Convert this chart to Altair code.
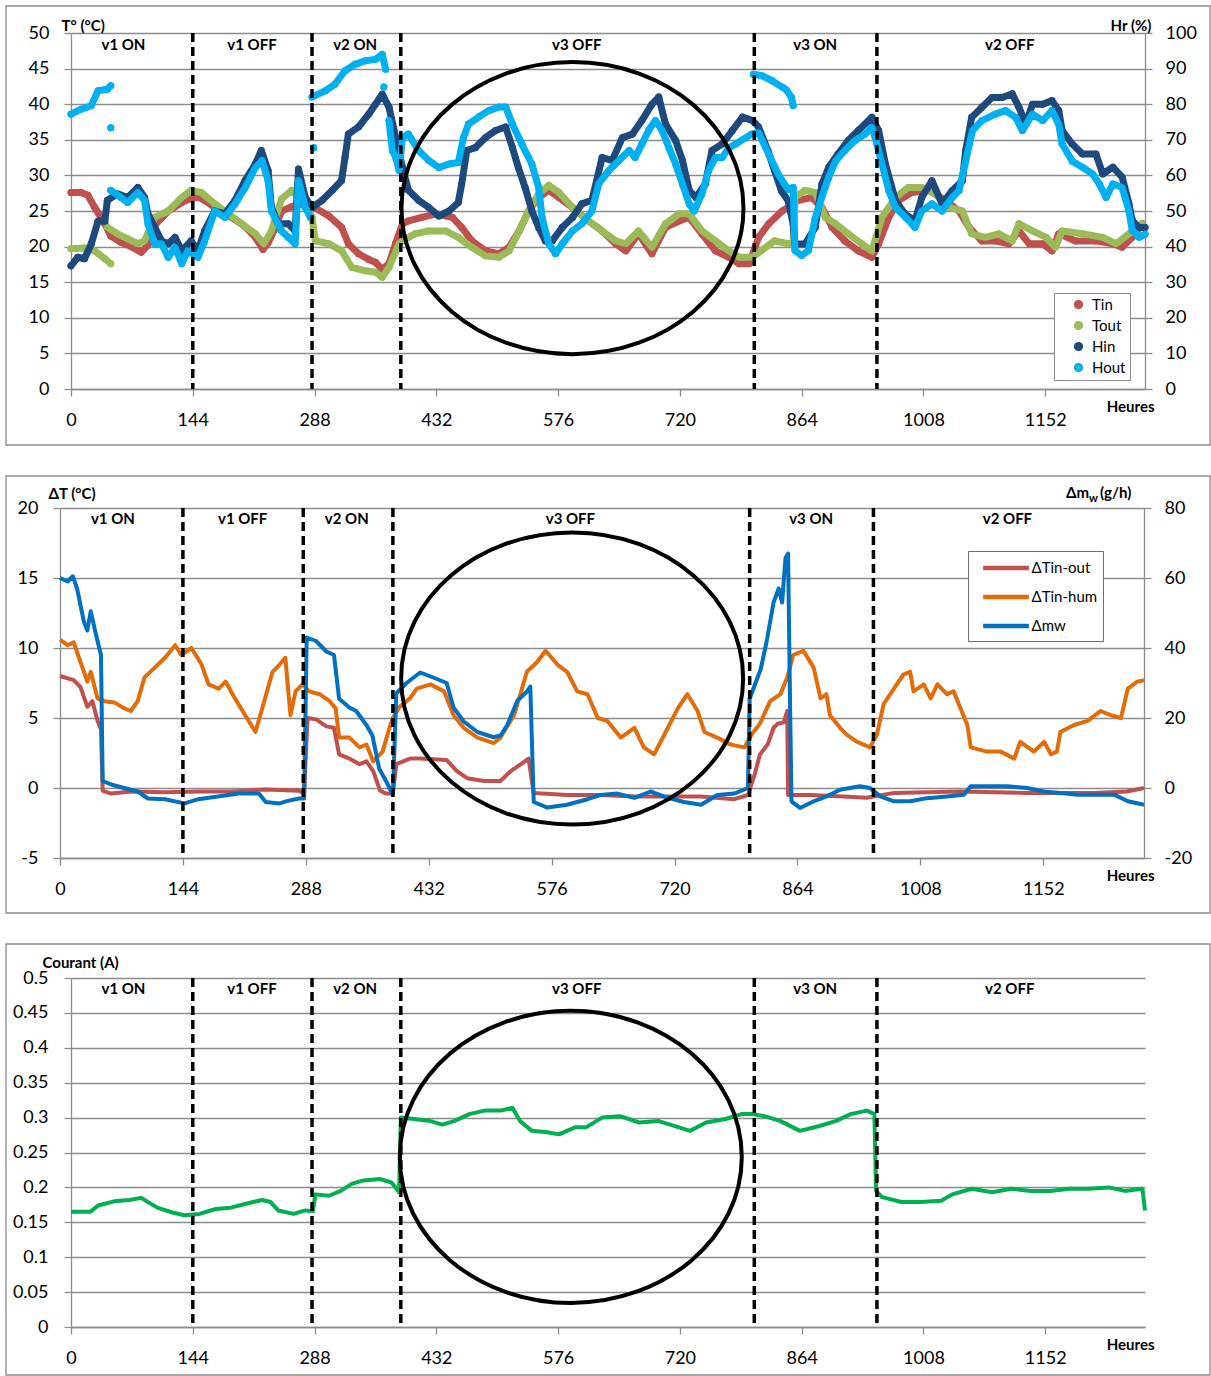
import altair as alt
import pandas as pd

FONT = "Lato"
GRID = "#8c8c8c"
BORDER = "#8c8c8c"

# ---------------- shared annotation data ----------------
HOUR_TICKS = [0, 144, 288, 432, 576, 720, 864, 1008, 1152]
X_MAX = 1270
SWITCH_H = [144, 285, 390, 808, 953]
ZONE_NAMES = ["v1 ON", "v1 OFF", "v2 ON", "v3 OFF", "v3 ON", "v2 OFF"]
ZONE_H = [62, 214, 336, 598, 880, 1110]
ELLIPSE_H = [593, 600, 591]
ELLIPSE_Y = [25.4, 7.82, 0.2437]

# ---------------- panel 1 : temperatures (left) & humidity (right) ----------------
P1_SERIES = ["Tin", "Tout", "Hin", "Hout"]
P1_COLORS = ["#C0504D", "#9BBB59", "#1F497D", "#00B0F0"]

TIN = [(0, 27.6), (12, 27.6), (20, 27.2), (28, 25.5), (40, 23.2), (47, 21.5), (59, 20.6), (71, 20.0),
       (83, 19.2), (91, 20.2), (99, 23.0), (107, 24.0), (115, 25.0), (123, 25.6), (131, 26.2), (138, 26.6),
       (150, 27.0), (158, 26.5), (170, 25.5), (182, 24.6), (194, 23.8), (206, 22.8), (218, 21.3), (227, 19.6),
       (233, 20.5), (241, 22.5), (249, 25.0), (261, 25.6), (269, 26.0), (277, 25.8), (289, 25.4), (305, 24.3),
       (320, 22.7), (328, 20.4), (340, 19.0), (352, 18.2), (360, 17.8), (368, 16.8), (376, 17.6), (384, 20.5),
       (392, 23.2), (399, 23.6), (415, 24.1), (431, 24.6), (451, 24.1), (462, 22.7), (474, 20.8), (490, 19.4),
       (506, 19.0), (518, 19.9), (530, 22.2), (541, 25.0), (553, 26.9), (565, 27.9), (577, 26.9), (593, 25.5),
       (612, 23.6), (628, 22.2), (644, 20.4), (656, 19.4), (671, 21.8), (687, 19.0), (703, 22.7), (719, 23.6),
       (731, 24.1), (746, 21.8), (762, 19.4), (778, 18.5), (790, 17.6), (802, 17.6), (813, 21.3), (825, 23.2),
       (841, 25.0), (848, 25.5), (860, 26.5), (876, 26.9), (888, 25.5), (900, 22.7), (915, 20.8), (931, 19.4),
       (947, 18.5), (955, 20.4), (967, 24.1), (979, 26.5), (994, 27.6), (1014, 27.9), (1034, 26.5), (1050, 25.0),
       (1062, 22.7), (1077, 20.8), (1093, 20.8), (1109, 20.4), (1121, 22.2), (1133, 20.4), (1149, 20.4),
       (1160, 19.4), (1168, 21.8), (1188, 20.8), (1212, 20.8), (1232, 20.4), (1243, 19.9), (1255, 21.3),
       (1267, 23.2)]

TOUT_1 = [(0, 19.7), (16, 19.8), (28, 19.4), (40, 18.3), (47, 17.6)]
TOUT_2 = [(43, 22.7), (55, 21.8), (67, 21.1), (79, 20.4), (87, 20.8), (99, 24.1), (115, 25.0), (131, 26.9),
          (142, 27.9), (154, 27.6), (170, 26.0), (186, 24.6), (202, 23.2), (218, 21.8), (228, 20.4), (237, 22.2),
          (249, 26.7), (261, 27.9), (277, 26.0), (285, 24.1), (289, 20.8), (305, 20.4), (320, 19.4), (332, 17.1),
          (348, 16.6), (360, 16.4), (368, 15.7), (376, 17.1), (388, 20.4), (399, 21.3), (407, 21.8), (423, 22.2),
          (443, 22.2), (458, 21.3), (474, 19.9), (490, 18.7), (506, 18.5), (518, 19.4), (530, 22.2), (541, 25.0),
          (553, 27.4), (565, 28.6), (577, 27.6), (593, 25.5), (612, 23.6), (628, 22.2), (644, 20.8), (656, 20.4),
          (671, 22.2), (687, 19.9), (703, 23.2), (719, 24.6), (731, 24.6), (746, 22.2), (762, 20.8), (778, 19.4),
          (790, 18.5), (806, 18.5), (817, 19.5), (832, 20.8), (848, 20.4), (854, 20.6), (856, 26.9), (868, 27.9),
          (880, 27.6), (892, 24.1), (904, 23.2), (919, 21.8), (935, 20.4), (947, 19.4), (959, 24.1), (975, 26.9),
          (990, 28.3), (1006, 28.3), (1022, 27.4), (1038, 25.5), (1054, 25.0), (1065, 21.8), (1081, 21.3),
          (1097, 21.8), (1113, 20.8), (1121, 23.2), (1137, 22.2), (1153, 21.3), (1164, 19.9), (1172, 22.2),
          (1196, 21.8), (1220, 21.3), (1236, 20.4), (1251, 21.8), (1267, 23.2)]

HIN = [(0, 34.6), (8, 37.0), (16, 36.6), (24, 40.8), (32, 47.2), (40, 47.2), (43, 53.0), (55, 54.8), (67, 53.8),
       (79, 56.6), (87, 53.8), (91, 49.2), (99, 45.4), (107, 41.6), (115, 40.8), (123, 42.6), (131, 38.8),
       (142, 41.6), (150, 38.8), (158, 44.4), (170, 50.0), (182, 49.2), (194, 53.0), (206, 58.6), (218, 63.2),
       (225, 67.0), (233, 61.4), (237, 51.0), (245, 46.4), (257, 46.4), (265, 44.4), (269, 61.8), (277, 53.8),
       (285, 51.0), (297, 53.0), (309, 55.8), (320, 58.6), (324, 65.0), (328, 71.6), (340, 73.6), (352, 77.2),
       (360, 80.0), (368, 82.8), (376, 79.2), (384, 70.6), (392, 62.2), (399, 55.8), (411, 53.0), (423, 51.0),
       (435, 48.6), (447, 50.0), (458, 52.4), (462, 57.6), (468, 67.0), (478, 67.8), (490, 70.6), (502, 72.6),
       (514, 73.6), (522, 67.8), (529, 62.2), (537, 56.6), (545, 50.0), (553, 45.4), (561, 41.6), (569, 41.6),
       (581, 45.4), (593, 48.2), (604, 52.0), (616, 53.0), (628, 65.0), (640, 64.2), (652, 70.6), (664, 71.6),
       (675, 75.4), (687, 80.0), (695, 82.0), (703, 74.4), (715, 69.8), (723, 64.2), (731, 55.8), (739, 53.8),
       (750, 57.6), (758, 67.0), (770, 68.8), (782, 72.6), (794, 76.4), (806, 75.4), (813, 73.6), (824, 67.0),
       (832, 61.3), (840, 55.7), (848, 52.9), (854, 46.3), (856, 40.7), (868, 40.7), (880, 45.4), (888, 57.6),
       (896, 62.3), (907, 66.0), (919, 69.8), (931, 72.6), (947, 76.3), (955, 72.6), (963, 63.2), (975, 52.9),
       (986, 49.2), (998, 47.3), (1006, 53.8), (1018, 58.5), (1030, 52.0), (1042, 55.7), (1054, 58.5),
       (1058, 67.0), (1065, 76.3), (1077, 79.1), (1089, 81.9), (1101, 81.9), (1113, 82.9), (1121, 79.1),
       (1129, 74.4), (1137, 80.0), (1149, 80.0), (1160, 81.0), (1168, 78.2), (1172, 72.6), (1184, 68.8),
       (1196, 66.0), (1212, 66.0), (1220, 60.4), (1232, 62.3), (1243, 59.5), (1251, 52.0), (1255, 47.3),
       (1263, 45.4), (1270, 45.4)]

HOUT_A = [(0, 77.2), (12, 78.6), (24, 79.6), (32, 83.8), (43, 84.2), (47, 85.2)]
HOUT_B = [(47, 55.8), (59, 53.8), (67, 52.4), (79, 55.2), (87, 53.0), (91, 46.4), (99, 40.8), (107, 40.8),
          (115, 37.0), (123, 39.8), (131, 35.2), (138, 38.8), (150, 37.0), (158, 41.6), (170, 50.0), (182, 48.2),
          (194, 52.0), (206, 56.6), (218, 62.2), (226, 64.2), (233, 58.6), (237, 50.0), (249, 44.4), (257, 42.6),
          (265, 40.8), (269, 58.6), (277, 51.0), (283, 48.2)]
HOUT_C = [(285, 82.0), (301, 83.8), (312, 85.6), (324, 89.4), (336, 91.2), (348, 92.2), (360, 92.6),
          (368, 94.0), (372, 89.8)]
HOUT_D = [(376, 75.4), (380, 67.0), (384, 65.0), (388, 61.4), (392, 70.6), (399, 71.6), (411, 67.0),
          (423, 64.2), (435, 62.2), (447, 63.2), (458, 63.6), (464, 70.6), (470, 74.4), (482, 76.4), (494, 78.2),
          (506, 79.2), (514, 79.2), (522, 74.4), (533, 68.8), (545, 63.2), (553, 56.6), (557, 48.2), (565, 40.8),
          (573, 38.0), (581, 40.8), (593, 44.4), (604, 46.4), (616, 50.0), (624, 57.6), (636, 61.4), (648, 64.2),
          (660, 67.0), (667, 65.0), (675, 68.8), (683, 72.6), (691, 75.4), (699, 72.6), (707, 67.8), (715, 63.2),
          (723, 57.6), (731, 52.0), (737, 50.0), (746, 54.8), (754, 61.4), (762, 65.0), (770, 65.0), (778, 67.8),
          (786, 68.8), (798, 70.6), (805, 71.6), (813, 72.0), (825, 66.0), (837, 60.0), (848, 56.0), (854, 56.6),
          (856, 38.9), (864, 37.5), (872, 38.9), (880, 48.0), (888, 54.0), (896, 59.5), (904, 64.0), (915, 67.0),
          (927, 69.8), (939, 71.6), (947, 73.5), (953, 68.8), (959, 63.2), (967, 55.7), (975, 51.0), (987, 48.2),
          (998, 45.4), (1006, 50.0), (1018, 52.0), (1030, 50.0), (1042, 53.8), (1050, 55.7), (1058, 64.0),
          (1066, 72.6), (1077, 75.4), (1093, 77.2), (1105, 78.2), (1117, 76.3), (1125, 72.6), (1137, 77.2),
          (1149, 75.4), (1160, 78.2), (1168, 74.4), (1172, 68.8), (1184, 64.0), (1196, 62.3), (1208, 60.4),
          (1216, 57.6), (1224, 53.8), (1232, 57.6), (1243, 56.6), (1251, 50.0), (1255, 44.5), (1263, 42.6),
          (1270, 43.5)]
HOUT_E = [(807, 88.4), (817, 88.0), (829, 86.6), (841, 84.8), (846, 84.0), (852, 81.9), (854, 79.6)]
HOUT_DOTS = [(47, 73.4), (287, 67.8), (370, 84.8)]

# ---------------- panel 2 : delta T (left) & water mass (right) ----------------
P2_SERIES = ["ΔTin-out", "ΔTin-hum", "Δmw"]
P2_COLORS = ["#C0504D", "#E36C09", "#0070C0"]

DT_OUT = [(0, 8.0), (16, 7.7), (24, 7.2), (32, 5.8), (38, 6.2), (44, 4.8), (48, 4.2), (50, -0.2), (60, -0.4),
          (83, -0.25), (123, -0.3), (162, -0.25), (201, -0.25), (241, -0.1), (280, -0.2), (286, -0.4), (290, 5.0),
          (300, 4.9), (312, 4.4), (321, 4.3), (327, 2.4), (339, 2.1), (351, 1.7), (359, 1.9), (367, 1.2),
          (375, -0.2), (382, -0.4), (390, -0.4), (394, 1.7), (410, 2.1), (422, 2.1), (453, 2.0), (465, 1.2),
          (477, 0.7), (497, 0.5), (516, 0.5), (528, 1.2), (540, 1.7), (549, 2.1), (555, -0.35), (594, -0.5),
          (633, -0.5), (673, -0.6), (712, -0.6), (751, -0.6), (790, -0.8), (806, -0.5), (814, 1.0), (820, 2.4),
          (829, 3.1), (836, 4.3), (841, 4.6), (848, 4.7), (852, 5.5), (853, -0.5), (879, -0.5), (918, -0.6),
          (945, -0.7), (977, -0.35), (1055, -0.25), (1133, -0.35), (1211, -0.35), (1250, -0.25), (1270, 0.0)]

DT_HUM = [(0, 10.6), (9, 10.2), (16, 10.4), (24, 9.0), (32, 7.6), (36, 8.3), (44, 6.4), (52, 6.2), (64, 6.1),
          (75, 5.7), (83, 5.5), (91, 6.2), (99, 7.9), (111, 8.6), (123, 9.3), (135, 10.2), (142, 9.5), (154, 10.0),
          (166, 8.8), (174, 7.4), (186, 7.1), (194, 7.6), (205, 6.4), (217, 5.2), (229, 4.0), (237, 5.7),
          (249, 8.3), (257, 8.8), (264, 9.3), (270, 5.2), (276, 6.9), (284, 7.4), (292, 6.9), (304, 6.7),
          (316, 6.2), (323, 5.7), (327, 3.6), (339, 3.6), (351, 2.9), (359, 3.1), (367, 1.9), (378, 2.6),
          (386, 4.3), (390, 5.0), (398, 5.8), (410, 6.4), (418, 7.1), (434, 7.4), (450, 6.9), (461, 5.2),
          (473, 4.3), (489, 3.6), (508, 3.2), (516, 3.6), (532, 5.2), (547, 8.3), (559, 9.0), (569, 9.8),
          (583, 8.8), (594, 8.3), (606, 6.9), (618, 6.7), (630, 5.0), (641, 4.8), (657, 3.6), (673, 4.3),
          (684, 2.9), (696, 2.4), (708, 3.8), (724, 5.7), (735, 6.7), (747, 5.5), (755, 4.0), (770, 3.6),
          (786, 3.1), (802, 2.9), (810, 3.8), (820, 4.6), (832, 6.2), (844, 6.7), (852, 7.9), (859, 9.5),
          (871, 9.8), (883, 8.6), (891, 6.4), (898, 6.7), (902, 5.2), (914, 4.3), (922, 3.8), (934, 3.3),
          (949, 2.9), (957, 3.8), (965, 6.0), (977, 7.1), (988, 8.1), (996, 8.3), (1000, 6.9), (1012, 7.4),
          (1020, 6.4), (1028, 7.4), (1039, 6.7), (1047, 6.9), (1055, 5.7), (1063, 4.5), (1067, 2.9), (1086, 2.6),
          (1102, 2.6), (1118, 2.1), (1125, 3.3), (1141, 2.6), (1153, 3.3), (1161, 2.4), (1168, 2.6), (1172, 4.0),
          (1188, 4.5), (1204, 4.8), (1219, 5.5), (1231, 5.2), (1243, 5.0), (1251, 7.1), (1262, 7.6), (1270, 7.7)]

DMW = [(0, 60), (9, 59), (15, 60.5), (20, 57), (28, 47.5), (32, 45), (36, 50.5), (42, 44), (48, 38), (50, 2),
       (60, 1), (75, 0), (91, -1), (103, -3), (123, -3.2), (146, -4.4), (162, -3.2), (185, -2.4), (209, -1.6),
       (233, -1.6), (241, -4), (257, -4.4), (268, -3.6), (280, -3), (286, -3), (289, 43), (300, 42), (312, 39),
       (321, 38), (327, 25.5), (339, 23), (347, 22), (359, 18), (366, 15), (374, 5.5), (382, 2), (390, -2),
       (394, 27), (406, 30), (422, 33), (438, 31.5), (453, 30), (461, 23), (473, 19), (489, 16), (508, 14.5),
       (516, 15), (524, 18), (536, 25), (547, 27.5), (551, 29), (555, -4), (571, -5.6), (594, -4.8),
       (618, -3.2), (633, -2), (653, -1.6), (673, -2.8), (692, -1), (712, -2.8), (731, -4), (751, -4.8),
       (770, -2), (790, -1.6), (806, 0), (808, 25.5), (821, 34), (828, 42), (836, 53), (842, 57), (846, 53),
       (850, 65.7), (853, 67), (855, 30), (857, -3.8), (867, -5.7), (883, -3.8), (898, -2.4), (914, -0.5),
       (937, 0.5), (949, 0), (961, -2.4), (977, -3.8), (996, -3.8), (1016, -2.9), (1039, -2.4), (1059, -1.9),
       (1067, 0.5), (1086, 0.5), (1110, 0.5), (1133, 0), (1153, -1), (1172, -1.4), (1192, -1.9), (1211, -1.9),
       (1235, -1.9), (1251, -3.8), (1270, -4.8)]

# ---------------- panel 3 : current ----------------
COURANT = [(0, 0.165), (23, 0.165), (32, 0.174), (51, 0.18), (69, 0.182), (83, 0.185), (102, 0.171),
           (120, 0.164), (134, 0.16), (152, 0.162), (171, 0.169), (189, 0.171), (208, 0.177), (226, 0.182),
           (236, 0.179), (245, 0.167), (263, 0.162), (277, 0.167), (286, 0.166), (289, 0.19), (305, 0.188),
           (319, 0.195), (332, 0.205), (346, 0.21), (365, 0.212), (379, 0.207), (388, 0.193), (390, 0.3),
           (406, 0.298), (425, 0.295), (439, 0.29), (453, 0.295), (471, 0.305), (489, 0.31), (508, 0.31),
           (522, 0.314), (531, 0.295), (545, 0.281), (563, 0.279), (577, 0.276), (596, 0.286), (609, 0.286),
           (628, 0.3), (649, 0.302), (672, 0.293), (695, 0.295), (719, 0.286), (732, 0.281), (751, 0.293),
           (774, 0.298), (793, 0.305), (806, 0.305), (820, 0.302), (839, 0.295), (862, 0.281), (885, 0.288),
           (904, 0.295), (922, 0.305), (941, 0.31), (950, 0.305), (952, 0.195), (959, 0.186), (982, 0.179),
           (1005, 0.179), (1029, 0.181), (1042, 0.19), (1065, 0.198), (1089, 0.193), (1112, 0.198),
           (1135, 0.195), (1158, 0.195), (1181, 0.198), (1204, 0.198), (1227, 0.2), (1246, 0.195),
           (1267, 0.198), (1270, 0.167)]

Y1_VALUES = [0, 5, 10, 15, 20, 25, 30, 35, 40, 45, 50]
Y1R_VALUES = [0, 10, 20, 30, 40, 50, 60, 70, 80, 90, 100]
Y2_VALUES = [-5, 0, 5, 10, 15, 20]
Y2R_VALUES = [-20, 0, 20, 40, 60, 80]
Y3_VALUES = [0, 0.05, 0.1, 0.15, 0.2, 0.25, 0.3, 0.35, 0.4, 0.45, 0.5]

ELLIPSE_PATH = "M -1 0 A 1 0.854 0 1 1 1 0 A 1 0.854 0 1 1 -1 0 Z"
ELLIPSE_SIZE = 342 * 342


def frame(parts):
    rows = []
    for series, seg, pts in parts:
        for h, v in pts:
            rows.append({"h": h, "v": v, "series": series, "seg": seg})
    return pd.DataFrame(rows)


def xscale(rng=None):
    if rng is None:
        return alt.Scale(domain=[0, X_MAX], nice=False, zero=False)
    return alt.Scale(domain=[0, X_MAX], range=rng, nice=False, zero=False)


def x_axis(title_x):
    return alt.Axis(values=HOUR_TICKS, title="Heures", titleX=title_x, titleY=17, titleAlign="right",
                    titleBaseline="middle", titleAngle=0, titleFontSize=15, titleFontWeight="bold",
                    labelFontSize=18, labelPadding=15, tickSize=7, grid=False, labelFlush=False,
                    labelOverlap=False, labelExpr="'' + datum.value", domainColor=GRID, tickColor=GRID,
                    domainWidth=1.3, tickWidth=1.3)


def y_axis(values, title, tx, ty, orient="left", grid=True, pad=15, align="left", offset=0):
    kw = dict(values=values, orient=orient, grid=grid, gridColor=GRID, gridWidth=1.3, tickSize=7,
              labelPadding=pad, labelFontSize=18, labelExpr="'' + datum.value", domainColor=GRID,
              tickColor=GRID, domainWidth=1.3, tickWidth=1.3, labelFlush=False, labelOverlap=False,
              offset=offset)
    if title:
        kw.update(title=title, titleAngle=0, titleX=tx, titleY=ty, titleAlign=align, titleBaseline="middle",
                  titleFontSize=15, titleFontWeight="bold")
    else:
        kw.update(title=None)
    return alt.Axis(**kw)


def border(x1, x2, y1, y2):
    return alt.Chart(pd.DataFrame({"k": [0]})).mark_rect(
        fill="white", fillOpacity=0, stroke=BORDER, strokeWidth=1.3).encode(
        x=alt.value(x1), x2=alt.value(x2), y=alt.value(y1), y2=alt.value(y2))


def annotations(height, ypos, ydomain, eh, ey, xenc_h):
    rules = alt.Chart(pd.DataFrame({"h": SWITCH_H})).mark_rule(
        color="black", strokeWidth=3.5, strokeDash=[9, 5]).encode(
        x=xenc_h, y=alt.value(0), y2=alt.value(height))
    zones = alt.Chart(pd.DataFrame({"h": ZONE_H, "name": ZONE_NAMES})).mark_text(
        font=FONT, fontSize=15, fontWeight="bold", color="black", baseline="middle", align="center").encode(
        x=xenc_h, y=alt.value(ypos), text="name:N")
    ell = alt.Chart(pd.DataFrame({"h": [eh], "v": [ey]})).mark_point(
        shape=ELLIPSE_PATH, size=ELLIPSE_SIZE, filled=False, color="black", strokeWidth=4, opacity=1).encode(
        x=xenc_h,
        y=alt.Y("v:Q", scale=alt.Scale(domain=ydomain, nice=False, zero=False), axis=None))
    return rules, zones, ell


# ---------------- build panel 1 ----------------
W1, H1 = 1074, 356
temp_df = frame([("Tin", "tin", TIN), ("Tout", "tout1", TOUT_1), ("Tout", "tout2", TOUT_2)])
hum_parts = [("Hin", "hin", HIN), ("Hout", "a", HOUT_A), ("Hout", "b", HOUT_B), ("Hout", "c", HOUT_C),
             ("Hout", "d", HOUT_D), ("Hout", "e", HOUT_E)]
hum_parts += [("Hout", "dot%d" % i, [p]) for i, p in enumerate(HOUT_DOTS)]
hum_df = frame(hum_parts)

c1_scale = alt.Scale(domain=P1_SERIES, range=P1_COLORS)
legend1 = alt.Legend(title=None, orient="none", legendX=983, legendY=260, padding=4, rowPadding=5,
                     symbolOffset=13, labelOffset=6, symbolSize=60, symbolType="circle",
                     labelFontSize=15, labelFont=FONT, labelColor="#000", strokeColor=BORDER,
                     fillColor="white")

x1 = alt.X("h:Q", scale=xscale(), axis=x_axis(1083))
yT = alt.Y("v:Q", scale=alt.Scale(domain=[0, 50], nice=False), axis=y_axis(Y1_VALUES, "T° (°C)", -10, -7.5))
yH = alt.Y("v:Q", scale=alt.Scale(domain=[0, 100], nice=False),
           axis=y_axis(Y1R_VALUES, "Hr (%)", 6, -7.5, orient="right", grid=False, pad=13, align="right"))

temp_pts = alt.Chart(temp_df).mark_circle(size=50, opacity=1).encode(
    x=x1, y=yT, color=alt.Color("series:N", scale=c1_scale, legend=legend1))
temp_line = alt.Chart(temp_df).mark_line(strokeWidth=7, strokeCap="round", strokeJoin="round").encode(
    x=x1, y=yT, color=alt.Color("series:N", scale=c1_scale, legend=legend1), detail="seg:N")
hum_line = alt.Chart(hum_df).mark_line(strokeWidth=7, strokeCap="round", strokeJoin="round").encode(
    x=x1, y=yH, color=alt.Color("series:N", scale=c1_scale, legend=legend1), detail="seg:N")
hum_pts = alt.Chart(hum_df).mark_circle(size=50, opacity=1).encode(
    x=x1, y=yH, color=alt.Color("series:N", scale=c1_scale, legend=legend1))

r1, z1, e1 = annotations(H1, 12, [0, 50], ELLIPSE_H[0], ELLIPSE_Y[0], x1)
p1 = alt.layer(
    border(-65, 1139, -27, 412),
    alt.layer(temp_pts, temp_line),
    alt.layer(hum_pts, hum_line),
    r1, z1, e1,
).resolve_scale(y="independent").properties(width=W1, height=H1)

# ---------------- build panel 2 ----------------
# the plot area of this panel starts 11 px further left than panels 1 and 3
W2, H2 = 1073, 350
dt_df = frame([("ΔTin-out", "out", DT_OUT), ("ΔTin-hum", "hum", DT_HUM)])
mw_df = frame([("Δmw", "mw", DMW)])
c2_scale = alt.Scale(domain=P2_SERIES, range=P2_COLORS)
legend2 = alt.Legend(title=None, orient="none", legendX=897, legendY=43, padding=5.5, rowPadding=8,
                     symbolType="M -2.5 0 L 2.5 0", symbolSize=335, symbolStrokeWidth=4.5,
                     symbolOffset=21, labelOffset=14, labelFontSize=15, labelFont=FONT, labelColor="#000",
                     strokeColor="#6e6e6e", fillColor="white")
x2 = alt.X("h:Q", scale=xscale([-11, 1073]), axis=x_axis(1083))
dt_line = alt.Chart(dt_df).mark_line(strokeWidth=4, strokeJoin="round").encode(
    x=x2,
    y=alt.Y("v:Q", scale=alt.Scale(domain=[-5, 20], nice=False, zero=False),
            axis=y_axis(Y2_VALUES, "ΔT (°C)", -12, -14.5, offset=11)),
    color=alt.Color("series:N", scale=c2_scale, legend=legend2), detail="seg:N")
mw_line = alt.Chart(mw_df).mark_line(strokeWidth=4, strokeJoin="round").encode(
    x=x2,
    y=alt.Y("v:Q", scale=alt.Scale(domain=[-20, 80], nice=False, zero=False),
            axis=y_axis(Y2R_VALUES, None, 0, 0, orient="right", grid=False, pad=13)),
    color=alt.Color("series:N", scale=c2_scale, legend=legend2))

one = pd.DataFrame({"k": [0]})
t_dm = alt.Chart(one).mark_text(text="Δm", font=FONT, fontSize=15, fontWeight="bold", align="right",
                                baseline="alphabetic", color="black").encode(x=alt.value(1018), y=alt.value(-10))
t_w = alt.Chart(one).mark_text(text="w", font=FONT, fontSize=11, fontWeight="bold", align="left",
                               baseline="alphabetic", color="black").encode(x=alt.value(1018), y=alt.value(-6))
t_gh = alt.Chart(one).mark_text(text="(g/h)", font=FONT, fontSize=15, fontWeight="bold", align="left",
                                baseline="alphabetic", color="black").encode(x=alt.value(1029), y=alt.value(-10))

r2, z2, e2 = annotations(H2, 11, [-5, 20], ELLIPSE_H[1], ELLIPSE_Y[1], x2)
p2 = alt.layer(
    border(-65, 1139, -32, 405),
    dt_line, mw_line,
    r2, z2, e2, t_dm, t_w, t_gh,
).resolve_scale(y="independent").properties(width=W2, height=H2)

# ---------------- build panel 3 ----------------
W3, H3 = 1074, 349
cur_df = frame([("Courant", "c", COURANT)])
x3 = alt.X("h:Q", scale=xscale(), axis=x_axis(1083))
cur_line = alt.Chart(cur_df).mark_line(strokeWidth=4, color="#00B050", strokeJoin="round").encode(
    x=x3,
    y=alt.Y("v:Q", scale=alt.Scale(domain=[0, 0.5], nice=False),
            axis=y_axis(Y3_VALUES, "Courant (A)", -29, -16, pad=16)))
r3, z3, e3 = annotations(H3, 11, [0, 0.5], ELLIPSE_H[2], ELLIPSE_Y[2], x3)
p3 = alt.layer(
    border(-65, 1139, -34, 397),
    cur_line, r3, z3, e3,
).resolve_scale(y="independent").properties(width=W3, height=H3)

chart = alt.vconcat(p1, p2, p3, spacing=29).resolve_scale(color="independent").resolve_legend(
    color="independent").properties(padding={"left": 5, "top": 5, "right": 0, "bottom": 0}).configure(
    background="white", font=FONT).configure_view(stroke=None).configure_axis(
    labelFont=FONT, titleFont=FONT, labelColor="#000", titleColor="#000")

chart.save("out.html", embed_options={"renderer": "svg", "actions": False})
